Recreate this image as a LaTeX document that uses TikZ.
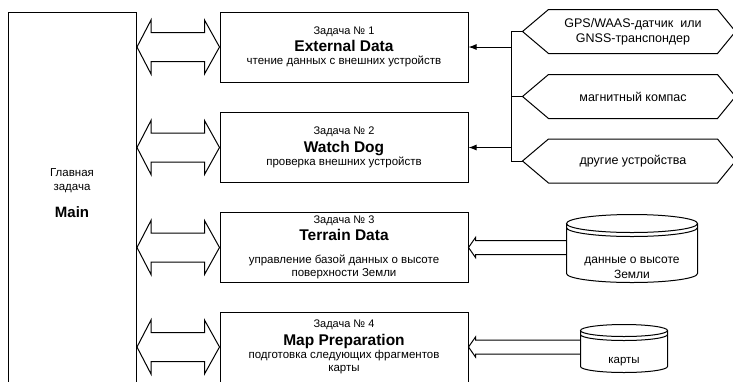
\documentclass[tikz,border=0pt]{standalone}
\usepackage{fontspec}
\setmainfont{Liberation Sans}
\usetikzlibrary{positioning, arrows.meta, calc}

\newcommand{\tasknum}{\fontsize{11}{13}\selectfont}
\newcommand{\tasktitle}{\fontsize{15.5}{17}\selectfont\bfseries}

\tikzset{
    task/.style={draw, minimum width=248pt, minimum height=70pt, inner sep=0pt, align=center, font=\fontsize{11.5}{13}\selectfont},
    device/.style={minimum width=168pt, minimum height=43pt, inner sep=0pt, align=center, font=\fontsize{12.5}{15}\selectfont},
    store/.style={inner sep=0pt},
    storetext/.style={align=center, font=\fontsize{12}{14.5}\selectfont},
    feed/.style={-{Latex[length=8pt, width=6pt]}}
}

\begin{document}
\begin{tikzpicture}[x=1pt, y=-1pt, line width=1pt]
    \clip (0,0) rectangle (733,381);

    % Главная задача
    \node[draw, minimum width=128pt, minimum height=371pt, anchor=north west] (main) at (8,12) {};
    \node[align=center, font=\fontsize{11.5}{14}\selectfont] (main-txt) at (72,193.5) {Главная\\задача\\[13pt]{\fontsize{15}{17}\selectfont\bfseries Main}};

    % Задачи
    \node[task] (t1) at (344,47) {{\tasknum Задача № 1}\\[3pt]{\tasktitle External Data}\\чтение данных с внешних устройств};
    \node[task] (t2) at (344,147.5) {{\tasknum Задача № 2}\\[3pt]{\tasktitle Watch Dog}\\проверка внешних устройств};
    \node[task] (t3) at (344,247.5) {{\tasknum Задача № 3}\\[3pt]{\tasktitle Terrain Data}\\[10pt]управление базой данных о высоте\\поверхности Земли};
    \node[task] (t4) at (344,347) {{\tasknum Задача № 4}\\[3pt]{\tasktitle Map Preparation}\\подготовка следующих фрагментов\\карты};

    % Обмен с главной задачей
    \foreach \i in {1,...,4} {
        \path (main.east |- t\i.west) coordinate (a\i) (t\i.west) coordinate (b\i);
        \draw (a\i) -- ($(a\i)+(14,-27)$) -- ($(a\i)+(14,-14.5)$) -- ($(b\i)+(-15,-14.5)$) -- ($(b\i)+(-15,-27)$)
            -- (b\i) -- ($(b\i)+(-15,27)$) -- ($(b\i)+(-15,14.5)$) -- ($(a\i)+(14,14.5)$) -- ($(a\i)+(14,27)$) -- cycle;
    }

    % Внешние устройства
    \node[device] (gps) at (633,31.5) {GPS/WAAS-датчик\ \ или\\GNSS-транспондер};
    \node[device] (compass) at (633,96.5) {магнитный компас};
    \node[device] (other) at (633,161) {другие устройства};
    \foreach \d in {gps,compass,other}
        \draw (\d.north west) -- (\d.north east) -- ([xshift=18pt]\d.east) -- (\d.south east)
            -- (\d.south west) -- ([xshift=-26pt]\d.west) coordinate (\d-tip) -- cycle;

    \coordinate (bus) at (511,0);
    \draw (gps-tip) -- (gps-tip -| bus) -- (other-tip -| bus) -- (other-tip);
    \draw (compass-tip) -- (compass-tip -| bus);
    \draw[feed] (t1.east -| bus) -- (t1.east);
    \draw[feed] (t2.east -| bus) -- (t2.east);

    % Базы данных
    \node[store, minimum width=130pt, minimum height=67pt] (terr) at (632,248.5) {};
    \node[store, minimum width=86pt, minimum height=47pt] (maps) at (624,348.5) {};
    \node[storetext] (terr-txt) at ([yshift=-19.5pt]terr.center) {данные о высоте\\Земли};
    \node[storetext, font=\fontsize{11.5}{14}\selectfont] (maps-txt) at ([yshift=-13.5pt]maps.center) {карты};
    \foreach \s/\ry in {terr/9pt, maps/6pt}
        \draw let \p1=(\s.north west), \p2=(\s.south east), \n1={(\x2-\x1)/2} in
            ([yshift=-\ry]\s.north) ellipse [x radius=\n1, y radius=\ry]
            ([yshift=-\ry-4pt]\s.north west) arc [start angle=180, end angle=360, x radius=\n1, y radius=\ry]
            ([yshift=-\ry]\s.north west) -- ([yshift=\ry]\s.south west)
            arc [start angle=180, end angle=360, x radius=\n1, y radius=\ry] -- ([yshift=-\ry]\s.north east);

    \foreach \s/\t in {terr/t3, maps/t4}
        \draw ($(\s.west |- \t.east)+(0,-7)$) -- ($(\t.east)+(7,-7)$) -- ($(\t.east)+(7,-10)$) -- (\t.east)
            -- ($(\t.east)+(7,10)$) -- ($(\t.east)+(7,7)$) -- ($(\s.west |- \t.east)+(0,7)$);
\end{tikzpicture}
\end{document}
